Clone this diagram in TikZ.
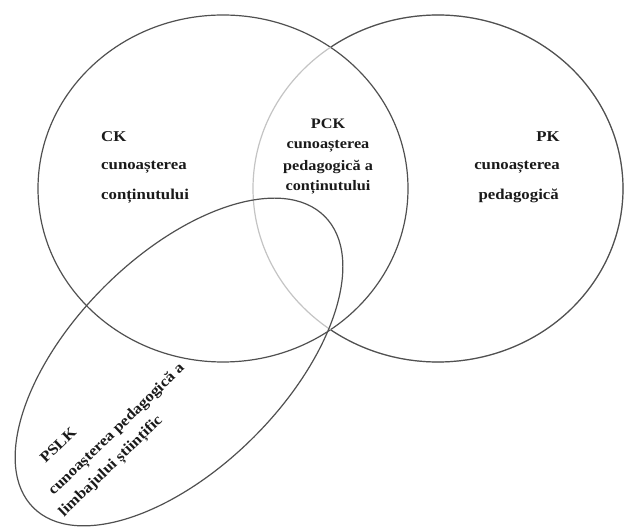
\documentclass[tikz,border=0pt]{standalone}
\usepackage{fontspec}
\setmainfont{Liberation Serif}[FakeStretch=1.12]
\usetikzlibrary{shapes.geometric}
\definecolor{ringdark}{HTML}{505050}
\definecolor{ringlight}{HTML}{C4C4C4}
\definecolor{txt}{HTML}{1A1A1A}
\begin{document}
\begin{tikzpicture}[x=1pt,y=1pt,
  ring/.style={ellipse,draw=ringdark,line width=1.2pt,inner sep=0pt,outer sep=0pt},
  lbl/.style={font=\fontsize{15}{18}\selectfont\bfseries,inner sep=0pt,text=txt},
  lbls/.style={font=\fontsize{14.5}{17}\selectfont\bfseries,inner sep=0pt,text=txt}]
\useasboundingbox[fill=white] (0,0) rectangle (624,527);
% sets
\node[ring,minimum width=370pt,minimum height=347pt] (CKe) at (223,338.5) {};
\node[ring,draw=ringlight,minimum width=370pt,minimum height=347pt] (PKe) at (438,338.5) {};
\draw[ringdark,line width=1.2pt] ([shift={(-125.5:185pt and 173.5pt)}]PKe.center)
  arc[start angle=-125.5,end angle=125.5,x radius=185pt,y radius=173.5pt];
\node[ring,minimum width=412pt,minimum height=212pt,rotate=45] (PSLKe) at (179,165) {};
% CK
\node[lbl,anchor=west] (ck1) at (101,390) {CK};
\node[lbl,anchor=west] (ck2) at (101,360) {cunoașterea};
\node[lbl,anchor=west] (ck3) at (101,331) {conținutului};
% PCK
\node[lbls] (pck1) at (328,403) {PCK};
\node[lbls] (pck2) at (328,380.3) {cunoașterea};
\node[lbls] (pck3) at (328,360.3) {pedagogică a};
\node[lbls] (pck4) at (328,340) {conținutului};
% PK
\node[lbl,anchor=east] (pk1) at (560,390) {PK};
\node[lbl,anchor=east] (pk2) at (560,360) {cunoașterea};
\node[lbl,anchor=east] (pk3) at (559,331) {pedagogică};
% PSLK
\node[lbl,rotate=44] (ps1) at (58,82) {PSLK};
\node[lbl,rotate=44] (ps2) at (117,97) {cunoașterea pedagogică a};
\node[lbl,rotate=44] (ps3) at (111.2,60.2) {limbajului științific};
\end{tikzpicture}
\end{document}
